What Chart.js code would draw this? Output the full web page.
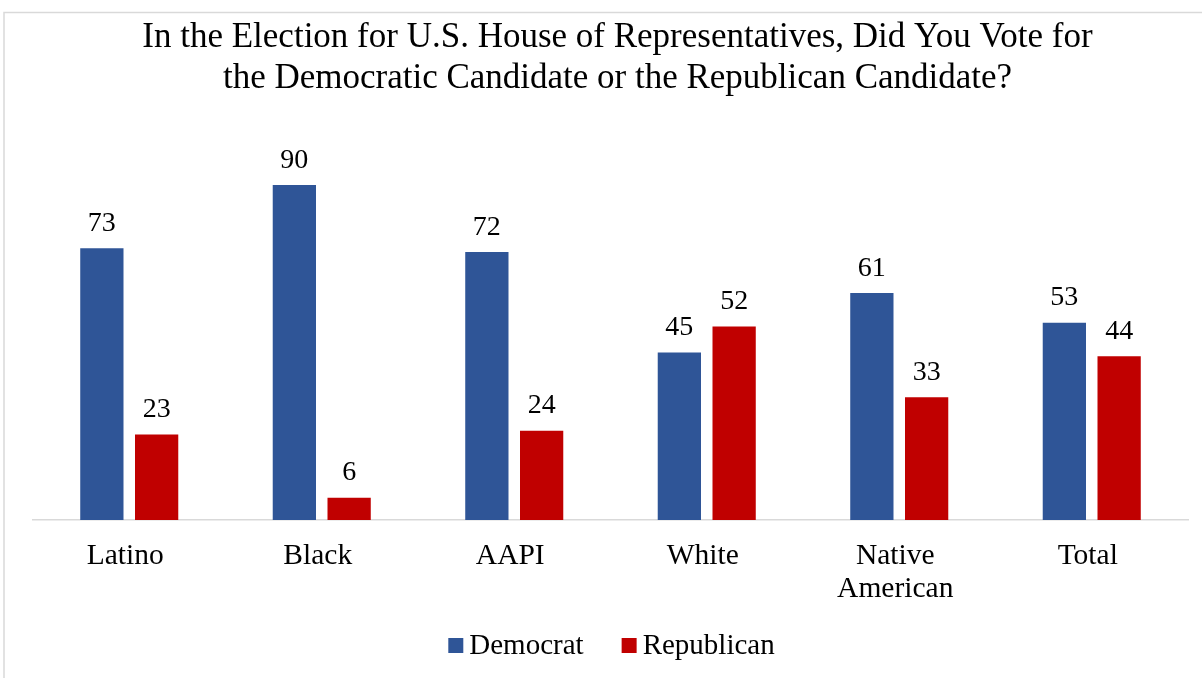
<!DOCTYPE html>
<html>
<head>
<meta charset="utf-8">
<script src="https://cdn.jsdelivr.net/npm/chart.js@4/dist/chart.umd.min.js"></script>
<style>
  html, body { margin: 0; padding: 0; background: #fff; overflow: hidden; }
  #wrap { position: relative; width: 1202px; height: 678px; }
</style>
</head>
<body>
<div id="wrap"><canvas id="voteChart" width="1202" height="678"></canvas></div>
<script>
// Vote share by group, House election
const groups = ["Latino", "Black", "AAPI", "White", ["Native", "American"], "Total"];
const democrat = [73, 90, 72, 45, 61, 53];
const republican = [23, 6, 24, 52, 33, 44];

const serif = "'Liberation Serif', 'Times New Roman', serif";

// Light gray frame behind the chart
const framePlugin = {
  id: "frame",
  beforeDraw(chart) {
    const ctx = chart.ctx;
    ctx.save();
    ctx.fillStyle = "#fff";
    ctx.fillRect(0, 0, chart.width, chart.height);
    ctx.strokeStyle = "#d9d9d9";
    ctx.lineWidth = 1.5;
    ctx.strokeRect(4, 12.5, 1400, 900);
    ctx.restore();
  },
};

// Value labels above each bar
const valueLabels = {
  id: "valueLabels",
  afterDatasetsDraw(chart) {
    const ctx = chart.ctx;
    ctx.save();
    ctx.font = "28px " + serif;
    ctx.fillStyle = "#000";
    ctx.textAlign = "center";
    ctx.textBaseline = "alphabetic";
    chart.data.datasets.forEach((ds, i) => {
      chart.getDatasetMeta(i).data.forEach((bar, j) => {
        ctx.fillText(ds.data[j], bar.x, bar.y - 17.5);
      });
    });
    ctx.restore();
  },
};

// Legend row under the axis: small square, tight gap, then the series name
const bottomLegend = {
  id: "bottomLegend",
  afterDraw(chart) {
    const ctx = chart.ctx;
    const box = 15, textGap = 6, itemGap = 38;
    ctx.save();
    ctx.font = "29px " + serif;
    ctx.textBaseline = "alphabetic";
    ctx.textAlign = "left";
    const items = chart.data.datasets.map((ds) => ({
      text: ds.label,
      color: ds.backgroundColor,
      width: box + textGap + ctx.measureText(ds.label).width,
    }));
    const total =
      items.reduce((s, it) => s + it.width, 0) + itemGap * (items.length - 1);
    const area = chart.chartArea;
    let x = (area.left + area.right) / 2 + 1 - total / 2;
    const boxTop = 638;
    items.forEach((it) => {
      ctx.fillStyle = it.color;
      ctx.fillRect(x, boxTop, box, box);
      ctx.fillStyle = "#000";
      ctx.fillText(it.text, x + box + textGap, boxTop + 16);
      x += it.width + itemGap;
    });
    ctx.restore();
  },
};

const ctx = document.getElementById("voteChart").getContext("2d");
new Chart(ctx, {
  type: "bar",
  data: {
    labels: groups,
    datasets: [
      {
        label: "Democrat",
        data: democrat,
        backgroundColor: "#2F5597",
        categoryPercentage: 0.569,
        barPercentage: 0.79,
      },
      {
        label: "Republican",
        data: republican,
        backgroundColor: "#C00000",
        categoryPercentage: 0.569,
        barPercentage: 0.79,
      },
    ],
  },
  options: {
    responsive: false,
    animation: false,
    layout: { padding: { left: 33, right: 0, top: 17, bottom: 78 } },
    plugins: {
      title: {
        display: true,
        text: [
          "In the Election for U.S. House of Representatives, Did You Vote for",
          "the Democratic Candidate or the Republican Candidate?",
        ],
        color: "#000",
        font: { family: serif, size: 35, weight: "normal", lineHeight: 1.17 },
        padding: { top: 0, bottom: 49 },
      },
      legend: { display: false },
      tooltip: { enabled: false },
    },
    scales: {
      x: {
        grid: { display: false },
        border: { display: true, color: "#d9d9d9", width: 1.5 },
        ticks: {
          color: "#000",
          font: { family: serif, size: 29.5, lineHeight: 1.12 },
          padding: 12,
          labelOffset: -4,
          maxRotation: 0,
        },
        afterFit(scale) {
          scale.height = 80;
        },
      },
      y: {
        position: "right",
        min: 0,
        max: 100,
        grid: { display: false },
        border: { display: false },
        ticks: { display: false },
        afterFit(scale) {
          scale.width = 14;
        },
      },
    },
  },
  plugins: [framePlugin, valueLabels, bottomLegend],
});
</script>
</body>
</html>
